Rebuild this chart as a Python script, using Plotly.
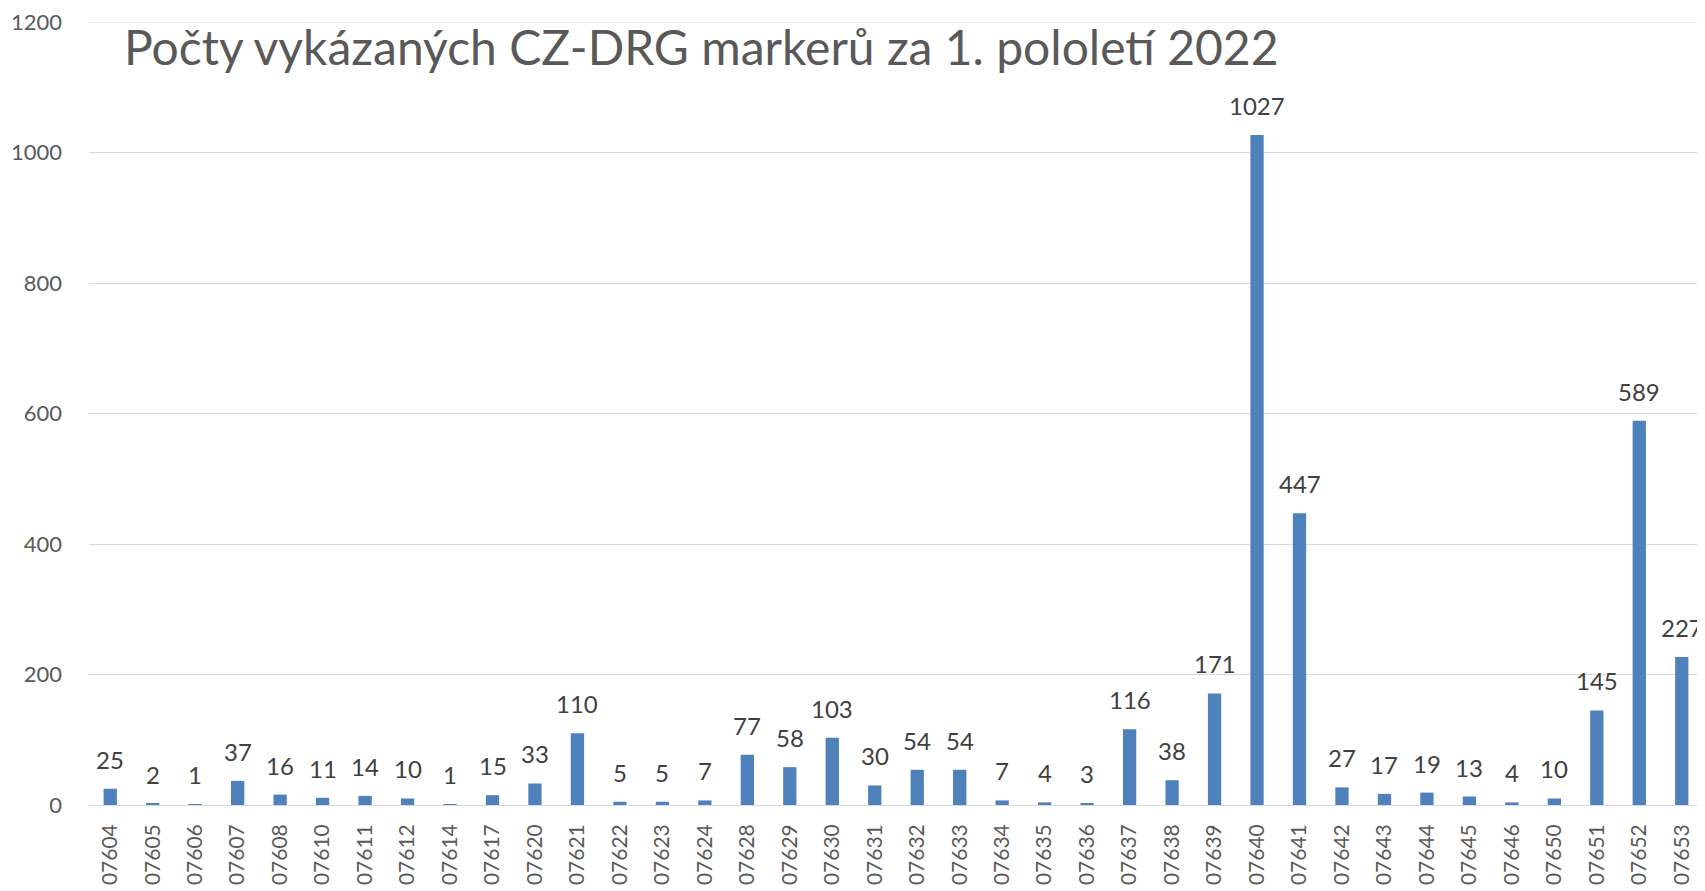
import plotly.graph_objects as go

categories = ["07604","07605","07606","07607","07608","07610","07611","07612","07614","07617",
              "07620","07621","07622","07623","07624","07628","07629","07630","07631","07632",
              "07633","07634","07635","07636","07637","07638","07639","07640","07641","07642",
              "07643","07644","07645","07646","07650","07651","07652","07653"]
values = [25,2,1,37,16,11,14,10,1,15,
          33,110,5,5,7,77,58,103,30,54,
          54,7,4,3,116,38,171,1027,447,27,
          17,19,13,4,10,145,589,227]
title_text = "Počty vykázaných CZ-DRG markerů za 1. pololetí 2022"
y_ticks = [0, 200, 400, 600, 800, 1000, 1200]

FONT = "Lato"
W, H = 1697, 883
fig = go.Figure()
fig.add_trace(go.Bar(x=categories, y=values, marker=dict(color="#4F81BD", line=dict(width=0)),
                     hoverinfo="x+y"))

for i, v in enumerate(values):
    fig.add_annotation(x=i, y=v, text=str(v), showarrow=False, yanchor="bottom",
                       yshift=13, font=dict(family=FONT, size=24, color="#404040"))

fig.update_layout(
    width=W, height=H,
    margin=dict(l=81, r=2, t=14, b=86),
    paper_bgcolor="white", plot_bgcolor="white",
    bargap=0.687,
    showlegend=False,
    title=dict(text=title_text, x=116/W, xanchor="left", xref="container",
               y=1-40/H, yanchor="middle", yref="container",
               font=dict(family=FONT, size=48, color="#595959")),
    xaxis=dict(type="category", tickangle=-90, showgrid=False, showline=False,
               range=[-0.5, len(categories) - 0.5],
               tickfont=dict(family=FONT, size=21, color="#595959"),
               ticklabelstandoff=14, zeroline=False, automargin=False),
    yaxis=dict(range=[0, 1200], tickvals=y_ticks, showgrid=True, gridcolor="#D9D9D9",
               gridwidth=1, zeroline=True, zerolinecolor="#D9D9D9", zerolinewidth=1,
               tickfont=dict(family=FONT, size=22, color="#595959"),
               ticklabelstandoff=26, ticklabeloverflow="allow",
               showline=False, automargin=False),
)

fig.add_hline(y=y_ticks[-1], line=dict(color="#D9D9D9", width=1), layer="below")

fig.write_html("out.html")
